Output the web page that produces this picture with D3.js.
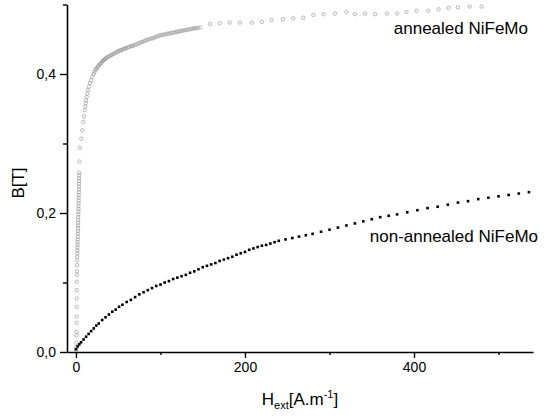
<!DOCTYPE html>
<html><head><meta charset="utf-8">
<script src="https://cdn.jsdelivr.net/npm/d3@7"></script>
<style>body{margin:0;background:#fff}svg{display:block;font-family:"Liberation Sans",Arial,sans-serif}</style>
</head><body>
<svg id="c" width="549" height="417"></svg>
<script>
// non-annealed NiFeMo
const nonH = [0,2,4,6,9,12,15,18,21,24,27,31,35,39,43,47,51,55,60,65,70,75,80,85,90,95,100,105,110,115,120,125,130,135,140,145,150,155,160,165,170,175,180,185,190,195,200,205,210,215,220,225,230,235,240,248,256,264,272,280,290,300,310,320,330,340,350,360,370,380,392,404,416,428,440,452,464,476,488,500,512,524,536];
const nonB = [0.004,0.008,0.011,0.014,0.018,0.022,0.026,0.030,0.034,0.038,0.041,0.046,0.050,0.054,0.058,0.061,0.065,0.068,0.072,0.075,0.079,0.083,0.086,0.089,0.092,0.095,0.097,0.100,0.102,0.105,0.107,0.109,0.111,0.114,0.116,0.119,0.122,0.124,0.126,0.128,0.131,0.133,0.135,0.137,0.140,0.142,0.144,0.147,0.149,0.151,0.153,0.154,0.156,0.158,0.160,0.162,0.164,0.166,0.168,0.170,0.173,0.176,0.179,0.182,0.185,0.188,0.191,0.194,0.196,0.198,0.201,0.204,0.207,0.209,0.212,0.215,0.217,0.220,0.222,0.224,0.226,0.228,0.230];
// annealed NiFeMo
const annH = [0.3,0.5,0.5,0.6,0.6,0.7,0.8,0.8,0.9,1.0,1.0,1.1,1.2,1.3,1.4,1.5,1.6,1.7,1.8,1.9,2.0,2.0,2.1,2.2,2.3,2.4,2.5,2.5,2.6,2.7,2.8,2.9,3.0,3.0,3.1,3.2,3.2,3.3,3.4,3.4,3.5,3.6,3.6,3.7,3.8,3.9,4.2,4.7,6.3,7.5,8.7,9.5,10.3,11.0,11.5,12.0,12.6,13.4,14.2,15.4,16.6,18.0,19.3,21,22,23.3,24,25,26,27,28,29,30,31,32,33,34,35,36,37,38.5,40,41.5,43,44.5,46,47.5,49,50.5,52,53.5,55,56.5,58,59.5,61,63,65,66.5,68,70,72,74,76,78,80,82,84,86,88,90,92,94,96,98,100,102,104,106,108,110,112,114,116,118,120,122,124,126,128,130,132,134,136,138,140,142,144,147,158.6,170,182,194,208,220,231.6,245,257,269,281,293,306.5,320,330,342,354,368,380,391,403,417,429,441,452,466,480];
const annB = [0.003,0.007,0.013,0.024,0.029,0.042,0.051,0.065,0.077,0.089,0.101,0.111,0.116,0.125,0.132,0.137,0.142,0.146,0.150,0.154,0.158,0.162,0.166,0.170,0.174,0.178,0.182,0.186,0.190,0.194,0.198,0.202,0.206,0.210,0.214,0.218,0.222,0.226,0.230,0.234,0.238,0.242,0.246,0.250,0.254,0.258,0.274,0.294,0.307,0.319,0.331,0.339,0.348,0.353,0.358,0.362,0.367,0.372,0.377,0.382,0.387,0.391,0.396,0.400,0.403,0.406,0.407,0.409,0.411,0.412,0.414,0.415,0.416,0.418,0.419,0.420,0.421,0.422,0.423,0.424,0.425,0.426,0.427,0.428,0.429,0.430,0.431,0.432,0.433,0.434,0.434,0.435,0.436,0.437,0.437,0.438,0.439,0.440,0.440,0.441,0.442,0.443,0.444,0.445,0.446,0.447,0.448,0.449,0.450,0.451,0.451,0.452,0.453,0.454,0.455,0.456,0.456,0.457,0.457,0.458,0.458,0.459,0.459,0.460,0.460,0.461,0.461,0.462,0.462,0.463,0.463,0.464,0.464,0.465,0.465,0.466,0.466,0.466,0.467,0.472,0.473,0.474,0.474,0.474,0.475,0.478,0.479,0.480,0.481,0.485,0.486,0.487,0.489,0.486,0.487,0.486,0.487,0.487,0.489,0.491,0.491,0.493,0.495,0.496,0.497,0.497];
const xMajor = [0,200,400], xMinor = [100,300,500];
const yMajor = [0,0.2,0.4], yMinor = [0.1,0.3,0.5];
const labels = ["annealed NiFeMo","non-annealed NiFeMo"];

const svg = d3.select("#c");
const x = d3.scaleLinear().domain([-10.6,540.8]).range([67,533]);
const y = d3.scaleLinear().domain([0,0.5]).range([352,4.5]);
const fmt = d => d3.format(".1f")(d).replace(".",",");

const gx = svg.append("g").attr("transform","translate(0,352)");
gx.call(d3.axisBottom(x).tickValues(xMajor).tickSize(6).tickSizeOuter(0).tickPadding(4));
gx.append("g").call(d3.axisBottom(x).tickValues(xMinor).tickSize(3).tickFormat("")).select(".domain").remove();
const gy = svg.append("g").attr("transform","translate(67,0)");
gy.call(d3.axisLeft(y).tickValues(yMajor).tickSize(7).tickSizeOuter(0).tickPadding(4).tickFormat(fmt));
gy.append("g").call(d3.axisLeft(y).tickValues(yMinor).tickSize(4).tickFormat("")).select(".domain").remove();
svg.selectAll(".domain").attr("stroke","#000").attr("stroke-width",1.6);
svg.selectAll(".tick line").attr("stroke","#000").attr("stroke-width",1.4);
svg.selectAll(".tick text").attr("font-size",14).attr("fill","#000").attr("font-family","Liberation Sans, Arial, sans-serif");

// annealed: open gray circles
svg.append("g").selectAll("circle").data(annH.map((h,i)=>[h,annB[i]])).join("circle")
  .attr("cx",d=>x(d[0])).attr("cy",d=>y(d[1])).attr("r",1.7)
  .attr("fill","none").attr("stroke","#999").attr("stroke-width",0.7);
// non-annealed: black squares
svg.append("g").selectAll("rect").data(nonH.map((h,i)=>[h,nonB[i]])).join("rect")
  .attr("x",d=>x(d[0])-1.3).attr("y",d=>y(d[1])-1.3).attr("width",2.6).attr("height",2.6).attr("fill","#000");

svg.append("text").attr("x",528).attr("y",34).attr("text-anchor","end").attr("font-size",17).text(labels[0]);
svg.append("text").attr("x",538).attr("y",242).attr("text-anchor","end").attr("font-size",17).text(labels[1]);

const xt = svg.append("text").attr("x",300).attr("y",405).attr("text-anchor","middle").attr("font-size",17);
xt.append("tspan").text("H");
xt.append("tspan").attr("font-size",11).attr("dy",4).text("ext");
xt.append("tspan").attr("dy",-4).text("[A.m");
xt.append("tspan").attr("font-size",11).attr("dy",-7).text("-1");
xt.append("tspan").attr("dy",7).text("]");

svg.append("text").attr("transform","translate(24,183) rotate(-90)").attr("text-anchor","middle").attr("font-size",17).text("B[T]");
</script>
</body></html>
